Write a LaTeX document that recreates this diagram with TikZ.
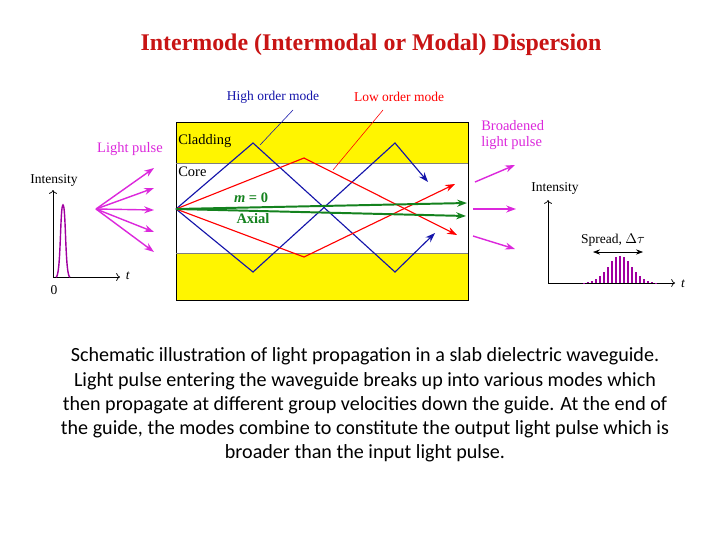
\documentclass[tikz,border=0pt]{standalone}
\usepackage{fontspec}
\setmainfont{Liberation Serif}
\newfontfamily\capfont{Carlito}
\usetikzlibrary{arrows.meta}
\definecolor{ttl}{RGB}{200,20,20}
\definecolor{mag}{RGB}{220,40,220}
\definecolor{pul}{RGB}{160,0,160}
\definecolor{navy}{RGB}{20,20,170}
\definecolor{gr}{RGB}{20,130,30}
\definecolor{yel}{RGB}{255,245,0}
\begin{document}
\begin{tikzpicture}[x=0.025cm,y=-0.025cm,
  lab/.style={inner sep=0pt,font=\fontsize{9.6}{11}\selectfont},
  ray/.style={line width=0.8pt,-{Stealth[length=7pt,width=5pt]}},
  marr/.style={mag,line width=1pt,-{Stealth[length=7pt,width=5pt]}}]
\useasboundingbox[fill=white] (0,0) rectangle (720,540);
\node[ttl,font=\fontsize{17}{19}\selectfont\bfseries] (title) at (371,45) {Intermode (Intermodal or Modal) Dispersion};
% waveguide
\fill[yel] (176,122) rectangle (468,300);
\fill[white] (176,163) rectangle (468,253);
\draw[line width=0.6pt] (176,122) rectangle (468,300);
\draw[gray,line width=0.6pt] (176,163) -- (468,163) (176,253) -- (468,253);
\node[lab,anchor=west,font=\fontsize{10.3}{11}\selectfont] (clad) at (178,141) {Cladding};
\node[lab,anchor=west,font=\fontsize{10.3}{11}\selectfont] (core) at (178,172) {Core};
\coordinate (src) at (176,209);
% blue
\draw[navy,ray] (src) -- (253,143) -- (395,272) -- (435,233);
\draw[navy,ray] (src) -- (253,272) -- (395,143) -- (428,182);
% red
\draw[red,ray] (src) -- (304,158) -- (457,235);
\draw[red,ray] (src) -- (304,257) -- (455,184);
% green
\draw[gr,ray,line width=1.4pt] (src) -- (467,203);
\draw[gr,ray,line width=1.4pt] (src) -- (466,216);
\node[gr,lab,font=\fontsize{10.3}{11}\selectfont\bfseries] (m0) at (251,198) {\textit{m} = 0};
\node[gr,lab,font=\fontsize{10.3}{11}\selectfont\bfseries] (ax) at (253,219) {Axial};
\node[navy,lab] (hom) at (273,97) {High order mode};
\node[red,lab] (lom) at (399,97) {Low order mode};
\draw[navy,line width=0.4pt] (293,110) -- (260,145);
\draw[red,line width=0.4pt] (383,110) -- (333,170);
% input
\node[mag,lab,font=\fontsize{10.3}{11}\selectfont] (lp) at (130,149) {Light pulse};
\coordinate (ls) at (96,209);
\foreach \y in {168,188,210,232,252} \draw[marr] (ls) -- (154,\y);
\coordinate (o1) at (53,277);
\draw[line width=0.5pt,->] (o1) -- (53,190);
\draw[line width=0.5pt,->] (o1) -- (120,277);
\node[lab] (t1) at (128,276) {\textit{t}};
\node[lab] (z1) at (54,290) {0};
\node[lab] (i1) at (54,180) {Intensity};
\draw[pul,line width=1pt] (56,277) .. controls (61,277) and (60,205) .. (63,205) .. controls (66,205) and (65,277) .. (70,277);
% output
\node[mag,lab,align=left,anchor=west,font=\fontsize{10.3}{12}\selectfont] (bl) at (481,135) {Broadened\\light pulse};
\draw[marr] (475,182) -- (515,165);
\draw[marr] (473,209) -- (516,209);
\draw[marr] (473,236) -- (515,249);
\coordinate (o2) at (548,283);
\draw[line width=0.5pt,->] (o2) -- (548,200);
\draw[line width=0.5pt,->] (o2) -- (675,283);
\node[lab] (t2) at (683,284) {\textit{t}};
\node[lab] (i2) at (555,188) {Intensity};
\node[lab] (sp) at (613,240) {Spread, $\Delta\tau$};
\draw[line width=0.5pt,{Stealth[length=5pt]}-{Stealth[length=5pt]}] (593,252) -- (643,252);
\foreach \x in {584,588,...,656} {
  \pgfmathsetmacro\h{27*exp(-((\x-620)/17)^2)}
  \draw[pul,line width=1.5pt] (\x,283) -- (\x,283-\h);
}
% caption
\node[font=\capfont\fontsize{14.3}{17.2}\selectfont,align=center] (cap) at (365,405) {Schematic illustration of light propagation in a slab dielectric waveguide.\\Light pulse entering the waveguide breaks up into various modes which\\then propagate at different group velocities down the guide. At the end of\\the guide, the modes combine to constitute the output light pulse which is\\broader than the input light pulse.};
\end{tikzpicture}
\end{document}
